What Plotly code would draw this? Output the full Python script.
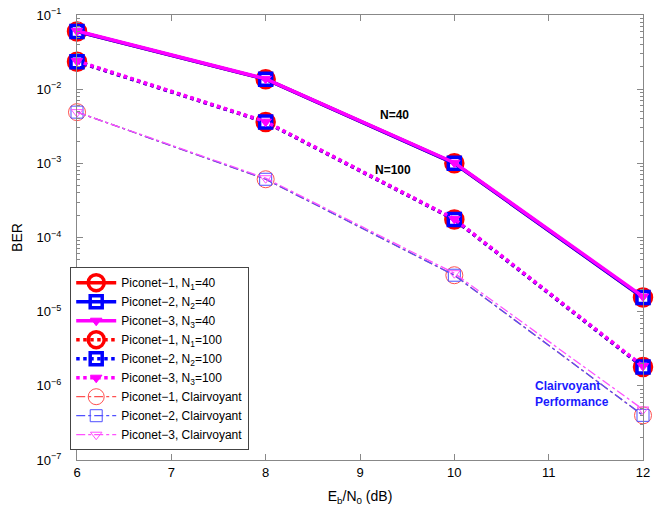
import plotly.graph_objects as go

x = [6, 8, 10, 12]
# BER values
p1_n40 = [0.060, 0.0136, 1.0e-3, 1.55e-5]
p2_n40 = [0.060, 0.0136, 1.0e-3, 1.55e-5]
p3_n40 = [0.061, 0.0138, 1.02e-3, 1.6e-5]
p1_n100 = [0.0235, 3.6e-3, 1.75e-4, 1.8e-6]
p2_n100 = [0.0235, 3.6e-3, 1.75e-4, 1.8e-6]
p3_n100 = [0.024, 3.65e-3, 1.78e-4, 1.85e-6]
p1_cv = [4.9e-3, 6.1e-4, 3.1e-5, 4.0e-7]
p2_cv = [4.9e-3, 6.1e-4, 3.1e-5, 4.0e-7]
p3_cv = [4.9e-3, 6.3e-4, 3.3e-5, 4.8e-7]

decades = [-7, -6, -5, -4, -3, -2, -1]
x_ticks = [6, 7, 8, 9, 10, 11, 12]

red = "#ff0000"
blue = "#0000ff"
mag = "#ff00ff"

fig = go.Figure()

def add(y, name, color, dash, width, symbol, msize, mlw, mcolor=None):
    fig.add_trace(go.Scatter(
        x=x, y=y, name=name, mode="lines+markers", cliponaxis=False,
        line=dict(color=color, width=width, dash=dash),
        marker=dict(symbol=symbol, size=msize, color=mcolor or color,
                    line=dict(color=color, width=mlw)),
    ))

add(p1_n40, "Piconet\u22121, N<sub>1</sub>=40", red, "solid", 3.5, "circle-open", 17, 3.5)
add(p2_n40, "Piconet\u22122, N<sub>2</sub>=40", blue, "solid", 3.5, "square-open", 12, 3.5)
add(p3_n40, "Piconet\u22123, N<sub>3</sub>=40", mag, "solid", 3.5, "triangle-down", 10, 1)
add(p1_n100, "Piconet\u22121, N<sub>1</sub>=100", red, "dot", 3.5, "circle-open", 17, 3.5)
add(p2_n100, "Piconet\u22122, N<sub>2</sub>=100", blue, "dot", 3.5, "square-open", 12, 3.5)
add(p3_n100, "Piconet\u22123, N<sub>3</sub>=100", mag, "dot", 3.5, "triangle-down", 10, 1)
add(p1_cv, "Piconet\u22121, Clairvoyant", "#ff5050", "dashdot", 1.3, "circle-open", 17, 1)
add(p2_cv, "Piconet\u22122, Clairvoyant", "#5050ff", "dashdot", 1.3, "square-open", 12, 1)
add(p3_cv, "Piconet\u22123, Clairvoyant", "#ff50ff", "dashdot", 1.3, "triangle-down-open", 10, 1)

tickvals = [10.0 ** d for d in decades]
ticktext = ["10<sup>\u2212%d</sup>" % (-d) for d in decades]
minorvals = [m * 10.0 ** d for d in decades[:-1] for m in range(2, 10)]

# invisible traces to activate the minor-tick overlay axes (left and right)
fig.add_trace(go.Scatter(x=[6], y=[1e-3], yaxis="y2", mode="markers",
                         marker=dict(opacity=0), showlegend=False, hoverinfo="skip"))
fig.add_trace(go.Scatter(x=[6], y=[1e-3], yaxis="y3", mode="markers",
                         marker=dict(opacity=0), showlegend=False, hoverinfo="skip"))

axcol = "#888"
minor_axis = dict(type="log", range=[-7, -1], overlaying="y",
                  tickvals=minorvals, showticklabels=False, automargin=False,
                  ticks="inside", ticklen=3, tickcolor=axcol, showgrid=False,
                  zeroline=False, showline=False)

fig.update_layout(
    width=669, height=510,
    margin=dict(l=77, r=26, t=15, b=50),
    paper_bgcolor="white", plot_bgcolor="white",
    font=dict(family="Liberation Sans, Arial, sans-serif", size=12, color="black"),
    showlegend=True,
    legend=dict(x=-0.012, y=0.022, xanchor="left", yanchor="bottom",
                bordercolor="#444", borderwidth=1, bgcolor="white",
                font=dict(size=12), tracegroupgap=0, itemwidth=40),
    xaxis=dict(range=[6, 12], tickvals=x_ticks, automargin=False,
               ticks="inside", ticklen=6, showgrid=False, zeroline=False,
               showline=True, linecolor=axcol, mirror="ticks", tickcolor=axcol,
               tickfont=dict(size=13),
               title=dict(text="E<sub>b</sub>/N<sub>0</sub> (dB)", standoff=12)),
    yaxis=dict(type="log", range=[-7, -1], tickvals=tickvals, ticktext=ticktext,
               automargin=False, tickfont=dict(size=13), ticklabelstandoff=12,
               ticklabeloverflow="allow",
               ticks="inside", ticklen=6, showgrid=False, zeroline=False,
               showline=True, linecolor=axcol, mirror="ticks", tickcolor=axcol,
               title=dict(text="BER", standoff=10)),
    yaxis2=dict(side="left", **minor_axis),
    yaxis3=dict(side="right", **minor_axis),
)

fig.add_annotation(x=9.37, y=-2.35, text="<b>N=40</b>", showarrow=False,
                   font=dict(size=12, color="black"))
fig.add_annotation(x=9.35, y=-3.09, text="<b>N=100</b>", showarrow=False,
                   font=dict(size=12, color="black"))
fig.add_annotation(x=10.83, y=-6.11, xanchor="left",
                   text="<b>Clairvoyant<br>Performance</b>",
                   showarrow=False, align="left", font=dict(size=12, color="#1a1aff"))

fig.write_html("out.html", config={"displayModeBar": False},
               post_script="document.body.style.margin='0';")
